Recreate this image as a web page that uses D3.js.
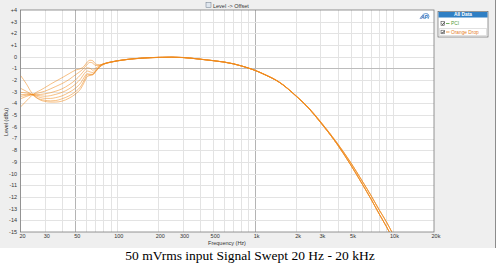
<!DOCTYPE html>
<html>
<head>
<meta charset="utf-8">
<script src="https://cdn.jsdelivr.net/npm/d3@7"></script>
<style>
  html, body { margin: 0; padding: 0; background: #fff; }
  svg { display: block; }
  .tick-label { font: 5.5px "Liberation Sans", Arial, sans-serif; fill: #333; }
</style>
</head>
<body>
<div id="chart"></div>
<script>
// Level -> Offset sweep: seven low-frequency traces that share one roll-off tail.

// frequencies (Hz) of the low end, where the traces split apart
var lowFreqs = [20, 22, 24, 26, 28, 30, 33, 36, 40, 45, 50, 55, 58, 61, 64, 67, 70, 75, 80, 90, 100];
// level (dBu) of every trace at lowFreqs
var sweep1 = [-4.3, -3.8, -3.35, -3.05, -2.85, -2.65, -2.35, -2.1, -1.8, -1.45, -1.15, -1.0, -0.8, -0.45, -0.3, -0.35, -0.62, -0.7, -0.6, -0.45, -0.35];
var sweep2 = [-3.6, -3.4, -3.25, -3.15, -3.05, -2.95, -2.75, -2.55, -2.3, -1.95, -1.55, -1.2, -0.95, -0.65, -0.48, -0.55, -0.75, -0.72, -0.6, -0.45, -0.35];
var sweep3 = [-3.4, -3.3, -3.25, -3.25, -3.22, -3.18, -3.08, -2.95, -2.75, -2.4, -2.0, -1.5, -1.18, -0.95, -1.0, -1.15, -1.0, -0.75, -0.62, -0.46, -0.35];
var sweep4 = [-3.25, -3.22, -3.22, -3.3, -3.35, -3.38, -3.33, -3.22, -3.05, -2.75, -2.35, -1.85, -1.45, -1.22, -1.3, -1.35, -1.15, -0.8, -0.63, -0.46, -0.36];
var sweep5 = [-3.05, -3.1, -3.22, -3.38, -3.5, -3.56, -3.57, -3.5, -3.35, -3.05, -2.7, -2.2, -1.75, -1.45, -1.5, -1.5, -1.25, -0.85, -0.64, -0.47, -0.36];
var sweep6 = [-2.7, -2.95, -3.2, -3.48, -3.65, -3.72, -3.78, -3.75, -3.6, -3.35, -3.0, -2.5, -2.0, -1.55, -1.55, -1.5, -1.25, -0.85, -0.65, -0.47, -0.36];
var sweep7 = [-1.6, -2.3, -3.05, -3.5, -3.72, -3.82, -3.88, -3.88, -3.8, -3.55, -3.2, -2.7, -2.2, -1.7, -1.6, -1.55, -1.3, -0.9, -0.66, -0.48, -0.37];

// shared upper part of the sweep, two slightly different edges above 4 kHz
var tailFreqs = [120, 150, 200, 250, 300, 400, 500, 600, 700, 800, 1000, 1200, 1500, 2000, 2500, 3000, 4000, 5000, 6000, 7000, 8000, 9000, 10000, 11000];
var tailA = [-0.22, -0.12, -0.05, -0.03, -0.06, -0.2, -0.33, -0.45, -0.6, -0.78, -1.15, -1.55, -2.15, -3.35, -4.45, -5.55, -7.45, -9.1, -10.6, -11.9, -13.1, -14.1, -15.1, -16.0];
var tailB = [-0.23, -0.13, -0.06, -0.04, -0.07, -0.21, -0.34, -0.46, -0.61, -0.79, -1.16, -1.57, -2.17, -3.38, -4.5, -5.62, -7.55, -9.3, -10.85, -12.2, -13.45, -14.5, -15.5, -16.4];

var xTickValues = [20, 30, 50, 100, 200, 300, 500, 1000, 2000, 3000, 5000, 10000, 20000];
var xTickLabels = ["20", "30", "50", "100", "200", "300", "500", "1k", "2k", "3k", "5k", "10k", "20k"];
var yTickValues = d3.range(-15, 5);

var legendNames = ["PCI", "Orange Drop"];
var legendColours = ["#4f9a3a", "#e57e1e"];
var caption = "50 mVrms input Signal Swept 20 Hz - 20 kHz";

(function () {
  var W = 500, H = 274;
  var L = 20.5, R = 434, T = 10, B = 232;

  var svg = d3.select("#chart").append("svg")
    .attr("width", W).attr("height", H)
    .attr("viewBox", [0, 0, W, H]);

  // -- window background ---------------------------------------------------
  svg.append("rect").attr("x", 0).attr("y", 0).attr("width", 495).attr("height", 248)
    .attr("fill", "#efefef");
  svg.append("line").attr("x1", 495.5).attr("x2", 495.5).attr("y1", 0).attr("y2", 248)
    .attr("stroke", "#8c8c8c");

  var x = d3.scaleLog().domain([20, 20000]).range([L, R]);
  var y = d3.scaleLinear().domain([-15, 4]).range([B, T]);

  svg.append("rect").attr("x", L).attr("y", T).attr("width", R - L).attr("height", B - T)
    .attr("fill", "#fff");

  // -- grid ----------------------------------------------------------------
  var gridX = [];
  [10, 100, 1000, 10000].forEach(function (d) {
    for (var m = 1; m <= 9; m++) {
      var v = d * m;
      if (v > 20 && v < 20000) gridX.push(v);
    }
  });
  var grid = svg.append("g").attr("shape-rendering", "crispEdges");
  grid.selectAll("line.gx").data(gridX).join("line")
    .attr("x1", function (d) { return Math.round(x(d)) + 0.5; })
    .attr("x2", function (d) { return Math.round(x(d)) + 0.5; })
    .attr("y1", T).attr("y2", B)
    .attr("stroke", function (d) { return d === 50 || d === 1000 ? "#b4b4b4" : "#e3e3e3"; });
  grid.selectAll("line.gy").data(yTickValues.slice(1, -1)).join("line")
    .attr("y1", function (d) { return Math.round(y(d)) + 0.5; })
    .attr("y2", function (d) { return Math.round(y(d)) + 0.5; })
    .attr("x1", L).attr("x2", R)
    .attr("stroke", function (d) { return d === -1 ? "#bcbcbc" : "#e3e3e3"; });

  // -- traces --------------------------------------------------------------
  svg.append("clipPath").attr("id", "plot-clip")
    .append("rect").attr("x", L).attr("y", T).attr("width", R - L).attr("height", B - T);

  var sweeps = [sweep1, sweep2, sweep3, sweep4, sweep5, sweep6, sweep7];
  var traces = sweeps.map(function (s, i) {
    var tail = i < 3 ? tailA : tailB;
    var pts = lowFreqs.map(function (f, j) { return [f, s[j]]; });
    return pts.concat(tailFreqs.map(function (f, j) { return [f, tail[j]]; }));
  });

  var line = d3.line()
    .x(function (d) { return x(d[0]); })
    .y(function (d) { return y(d[1]); })
    .curve(d3.curveMonotoneX);

  svg.append("g").attr("clip-path", "url(#plot-clip)")
    .selectAll("path").data(traces).join("path")
    .attr("d", line)
    .attr("fill", "none")
    .attr("stroke", "#ee8a1c")
    .attr("stroke-opacity", 0.6)
    .attr("stroke-width", 0.9);

  // plot frame
  svg.append("rect").attr("x", L).attr("y", T).attr("width", R - L).attr("height", B - T)
    .attr("fill", "none").attr("stroke", "#7a7a7a").attr("stroke-width", 0.8);

  // -- axes ----------------------------------------------------------------
  svg.append("g").selectAll("text").data(xTickValues).join("text")
    .attr("class", "tick-label")
    .attr("x", function (d) { return x(d) + 2; })
    .attr("y", 238)
    .attr("text-anchor", "middle")
    .text(function (d, i) { return xTickLabels[i]; });

  svg.append("g").selectAll("text").data(yTickValues).join("text")
    .attr("class", "tick-label")
    .attr("x", 17)
    .attr("y", function (d) { return y(d); })
    .attr("dy", "0.35em")
    .attr("text-anchor", "end")
    .text(function (d) { return d > 0 ? "+" + d : String(d); });

  svg.append("text").attr("class", "tick-label")
    .attr("x", 227).attr("y", 245).attr("text-anchor", "middle")
    .text("Frequency (Hz)");
  svg.append("text").attr("class", "tick-label")
    .attr("transform", "translate(7.5,122) rotate(-90)")
    .attr("text-anchor", "middle")
    .text("Level (dBu)");

  // -- title bar -----------------------------------------------------------
  svg.append("rect").attr("x", 206).attr("y", 2.5).attr("width", 5).attr("height", 5)
    .attr("fill", "#dfe6ee").attr("stroke", "#6b7a8a").attr("stroke-width", 0.5);
  svg.append("text").attr("class", "tick-label")
    .attr("x", 213).attr("y", 7.5).text("Level -> Offset");

  // AP logo
  var logo = svg.append("g").attr("transform", "translate(420,13)");
  logo.append("path").attr("d", "M0,6 Q3,-1 8,1 Q10,3 8,6")
    .attr("fill", "none").attr("stroke", "#2a6bb8").attr("stroke-width", 0.7);
  logo.append("text").attr("x", 1).attr("y", 5.5)
    .style("font", "italic bold 5px 'Liberation Sans', sans-serif")
    .attr("fill", "#2a6bb8").text("AP");

  // -- legend --------------------------------------------------------------
  var lg = svg.append("g");
  lg.append("rect").attr("x", 438).attr("y", 11.5).attr("width", 50).attr("height", 25.5)
    .attr("fill", "#fff").attr("stroke", "#555").attr("stroke-width", 0.6);
  lg.append("rect").attr("x", 438.5).attr("y", 12).attr("width", 49).attr("height", 5.5)
    .attr("fill", "#2f7fc4");
  lg.append("text").attr("x", 463).attr("y", 16.4).attr("text-anchor", "middle")
    .style("font", "bold 4.8px 'Liberation Sans', sans-serif")
    .attr("fill", "#fff").text("All Data");
  lg.append("rect").attr("x", 439.5).attr("y", 28.5).attr("width", 47).attr("height", 7)
    .attr("fill", "none").attr("stroke", "#666").attr("stroke-width", 0.4)
    .attr("stroke-dasharray", "1,1");

  legendNames.forEach(function (name, i) {
    var ry = 23.5 + i * 8.5;
    lg.append("rect").attr("x", 441).attr("y", ry - 1.8).attr("width", 3.6).attr("height", 3.6)
      .attr("fill", "#fff").attr("stroke", "#333").attr("stroke-width", 0.5);
    lg.append("path").attr("d", "M" + 441.7 + "," + ry + " l1,1.2 l1.7,-2.4")
      .attr("fill", "none").attr("stroke", "#111").attr("stroke-width", 0.7);
    lg.append("line").attr("x1", 446).attr("x2", 449.5).attr("y1", ry).attr("y2", ry)
      .attr("stroke", legendColours[i]).attr("stroke-width", 0.8);
    lg.append("text").attr("x", 451).attr("y", ry + 1.7)
      .style("font", "4.8px 'Liberation Sans', sans-serif")
      .attr("fill", legendColours[i]).text(name);
  });

  // -- caption -------------------------------------------------------------
  svg.append("text")
    .attr("x", 250).attr("y", 260)
    .attr("text-anchor", "middle")
    .style("font", "13.5px 'Liberation Serif', 'Times New Roman', serif")
    .attr("fill", "#000")
    .text(caption);
})();
</script>
</body>
</html>
